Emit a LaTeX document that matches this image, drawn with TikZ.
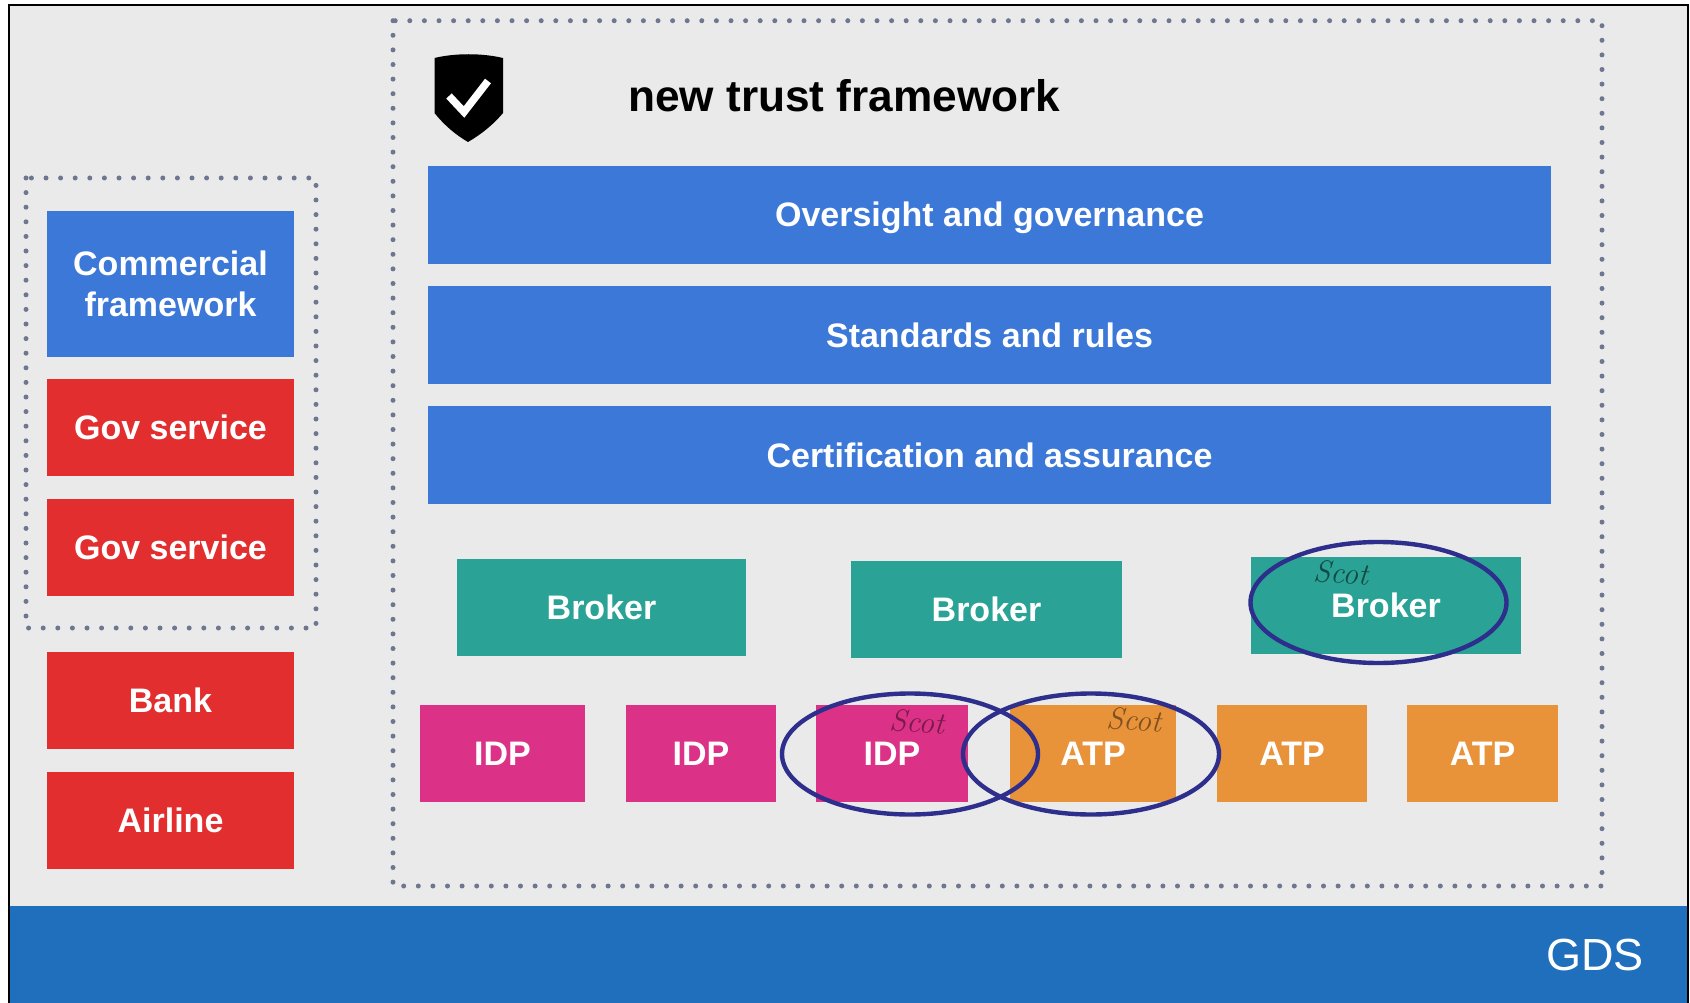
\documentclass[tikz,border=0pt]{standalone}
\usepackage{fontspec}
\setmainfont{Liberation Sans}
\usetikzlibrary{shapes.geometric}
\definecolor{bgc}{HTML}{EAEAEA}
\definecolor{barc}{HTML}{3C78D8}
\definecolor{redc}{HTML}{E22E2E}
\definecolor{tealc}{HTML}{2AA396}
\definecolor{magc}{HTML}{DB3187}
\definecolor{orac}{HTML}{E8923A}
\definecolor{bandc}{HTML}{1F6FBC}
\definecolor{ringc}{HTML}{2E2E8C}
\definecolor{dotc}{HTML}{6E7690}
\tikzset{
  x=1pt,y=-1pt,
  tile/.style={rectangle,draw=none,inner sep=0pt,text=white,align=center,
    font=\fontsize{34}{41}\selectfont\bfseries},
  sized/.style={text height=27pt,text depth=3pt},
  bar/.style={tile,sized,fill=barc,minimum width=1123pt,minimum height=98pt},
  side/.style={tile,sized,fill=redc,minimum width=247pt,minimum height=97pt},
  brokerbox/.style={tile,sized,fill=tealc,minimum height=97pt},
  idpbox/.style={tile,sized,fill=magc,minimum height=97pt},
  atpbox/.style={tile,sized,fill=orac,minimum height=97pt},
  ring/.style={ellipse,draw=ringc,line width=4.4pt,inner sep=0pt,fill=none},
  dotted box/.style={draw=dotc,line width=5pt,line cap=round,dash pattern=on 0pt off 14.6pt},
  scot/.style={inner sep=0pt,font=\fontspec{Latin Modern Roman}\itshape\fontsize{31}{31}\selectfont,rotate=-4}
}
\begin{document}
\begin{tikzpicture}
\useasboundingbox (0,0) rectangle (1690,1003);
\fill[white] (0,0) rectangle (1690,1003);
\fill[bgc] (9,5) rectangle (1688,906);
\fill[bandc] (9,906) rectangle (1688,1003);
\draw[black,line width=2.2pt] (9,1003) -- (9,5) -- (1688,5) -- (1688,1003);
% dotted frames
\draw[dotted box] (393,20.7) rectangle (1602,886);
\draw[dotted box] (26,178) rectangle (316,628);
% shield
\fill[black] (434.5,58) .. controls (455,53) and (482,53) .. (503,58) -- (503,113) .. controls (492,126) and (480,135) .. (468,142) .. controls (456,135) and (445,126) .. (434.5,113) -- cycle;
\draw[white,line width=7.5pt,line join=miter] (449,96) -- (464,112) -- (488,81);
\node[anchor=base west,inner sep=0pt,font=\fontsize{44.2}{44}\selectfont\bfseries] (title) at (628,112) {new trust framework};
% left column
\node[tile,fill=barc,minimum width=247pt,minimum height=146pt] (comm) at (170.5,284) {\raisebox{-1pt}{Commercial}\\\raisebox{-1pt}{framework}};
\node[side] (gov1) at (170.5,427) {Gov service};
\node[side] (gov2) at (170.5,547) {Gov service};
\node[side] (bank) at (170.5,700.5) {Bank};
\node[side] (air) at (170.5,820.5) {Airline};
% bars
\node[bar] (over) at (989.5,215) {Oversight and governance};
\node[bar] (std) at (989.5,335) {Standards and rules};
\node[bar] (cert) at (989.5,455) {Certification and assurance};
% brokers
\node[brokerbox,minimum width=289pt] (b1) at (601.5,607) {Broker};
\node[brokerbox,minimum width=271pt] (b2) at (986.5,609.5) {Broker};
\node[brokerbox,minimum width=270pt] (b3) at (1386,605) {Broker};
% idp / atp
\node[idpbox,minimum width=165pt] (i1) at (502.5,753.5) {IDP};
\node[idpbox,minimum width=150pt] (i2) at (701,753.5) {IDP};
\node[idpbox,minimum width=152pt] (i3) at (892,753.5) {IDP};
\node[atpbox,minimum width=166pt] (a1) at (1093,753.5) {ATP};
\node[atpbox,minimum width=150pt] (a2) at (1292,753.5) {ATP};
\node[atpbox,minimum width=151pt] (a3) at (1482.5,753.5) {ATP};
% handwritten notes
\node[scot,text=black!55!tealc] (s3) at (1341,573) {Scot};
\node[scot,text=black!45!magc] (s1) at (917,722) {Scot};
\node[scot,text=black!45!orac] (s2) at (1134,720) {Scot};
% rings
\node[ring,minimum width=256pt,minimum height=121pt] (r3) at (1378.5,602.5) {};
\node[ring,minimum width=256pt,minimum height=121pt] (r1) at (910,754) {};
\node[ring,minimum width=256pt,minimum height=121pt] (r2) at (1091,754) {};
\node[anchor=base east,inner sep=0pt,text=white,font=\fontsize{45}{45}\selectfont] (gds) at (1644,970) {GDS};
\end{tikzpicture}
\end{document}
